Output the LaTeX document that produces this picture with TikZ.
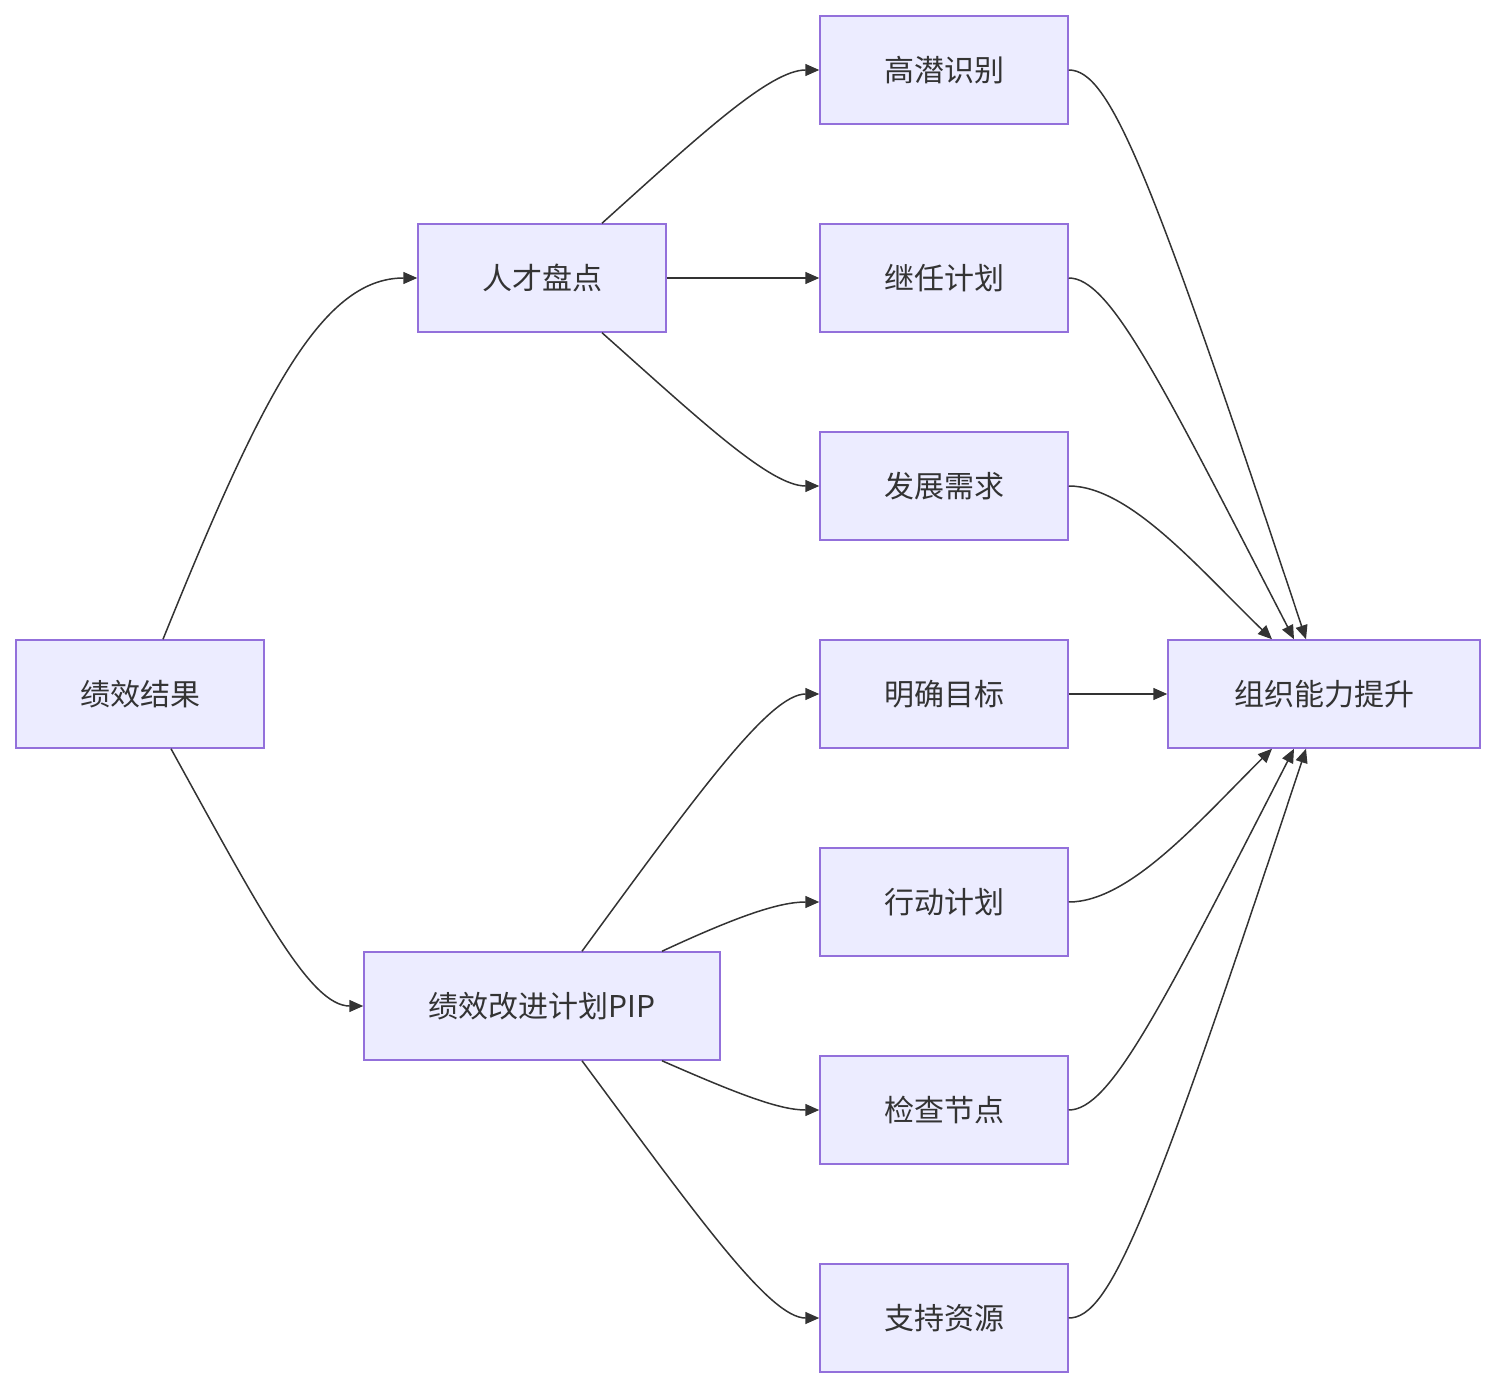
\documentclass[tikz,border=0pt]{standalone}
\usepackage{fontspec}
\setmainfont{Noto Sans CJK SC}
\usetikzlibrary{arrows.meta}
\definecolor{nfill}{HTML}{ECECFF}
\definecolor{nline}{HTML}{9370DB}
\definecolor{ink}{HTML}{333333}
\begin{document}
\begin{tikzpicture}[x=1pt,y=-1pt,
  box/.style={draw=nline,fill=nfill,line width=1.5pt,minimum height=108pt,minimum width=248pt,inner sep=0pt,text=ink,font=\fontsize{30}{36}\selectfont},
  e/.style={draw=ink,line width=1.5pt,-{Triangle[length=14pt,width=12pt]}}]
\useasboundingbox (0,0) rectangle (1496,1388);
\node[box] (A) at (140,694) {绩效结果};
\node[box] (B) at (542,278) {人才盘点};
\node[box,minimum width=356pt] (C) at (542,1006) {绩效改进计划PIP};
\node[box] (R1) at (944,70) {高潜识别};
\node[box] (R2) at (944,278) {继任计划};
\node[box] (R3) at (944,486) {发展需求};
\node[box] (R4) at (944,694) {明确目标};
\node[box] (R5) at (944,902) {行动计划};
\node[box] (R6) at (944,1110) {检查节点};
\node[box] (R7) at (944,1318) {支持资源};
\node[box,minimum width=312pt] (D) at (1324,694) {组织能力提升};
\draw[e] ([xshift=23pt]A.north) .. controls (260,400) and (320,278) .. (B.west);
\draw[e] ([xshift=31pt]A.south) .. controls (260,910) and (310,1006) .. (C.west);
\draw[e] ([xshift=60pt]B.north) .. controls (700,135) and (770,70) .. (R1.west);
\draw[e] (B.east) -- (R2.west);
\draw[e] ([xshift=60pt]B.south) .. controls (700,420) and (770,486) .. (R3.west);
\draw[e] ([xshift=40pt]C.north) .. controls (700,790) and (770,694) .. (R4.west);
\draw[e] ([xshift=120pt]C.north) .. controls (740,915) and (780,902) .. (R5.west);
\draw[e] ([xshift=120pt]C.south) .. controls (740,1095) and (780,1110) .. (R6.west);
\draw[e] ([xshift=40pt]C.south) .. controls (700,1220) and (770,1318) .. (R7.west);
\draw[e] (R1.east) .. controls (1110,70) and (1150,170) .. ([xshift=-18pt]D.north);
\draw[e] (R2.east) .. controls (1110,278) and (1160,380) .. ([xshift=-30pt]D.north);
\draw[e] (R3.east) .. controls (1130,486) and (1200,570) .. ([xshift=-52pt]D.north);
\draw[e] (R4.east) -- (D.west);
\draw[e] (R5.east) .. controls (1130,902) and (1200,820) .. ([xshift=-52pt]D.south);
\draw[e] (R6.east) .. controls (1110,1110) and (1160,1010) .. ([xshift=-30pt]D.south);
\draw[e] (R7.east) .. controls (1110,1318) and (1150,1220) .. ([xshift=-18pt]D.south);
\end{tikzpicture}
\end{document}
